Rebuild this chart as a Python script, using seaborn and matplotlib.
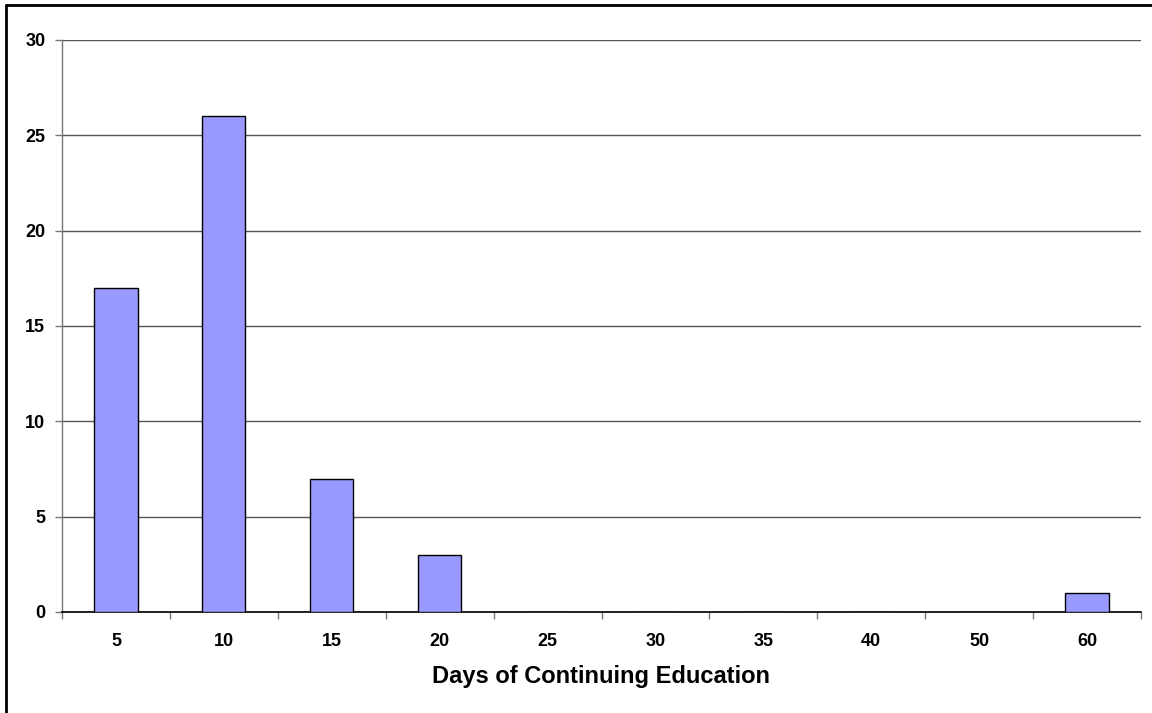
import matplotlib
matplotlib.use("Agg")
import matplotlib.pyplot as plt
import seaborn as sns
import pandas as pd
from matplotlib.lines import Line2D

days = ["5", "10", "15", "20", "25", "30", "35", "40", "50", "60"]
counts = [17, 26, 7, 3, 0, 0, 0, 0, 0, 1]
y_ticks = [0, 5, 10, 15, 20, 25, 30]

sns.set_theme(style="white")
plt.rcParams["font.family"] = ["Liberation Sans", "DejaVu Sans"]
plt.rcParams["text.color"] = "black"
plt.rcParams["xtick.color"] = "black"
plt.rcParams["ytick.color"] = "black"
plt.rcParams["axes.labelcolor"] = "black"

df = pd.DataFrame({"days": days, "count": counts})

W, H = 1152, 713
fig = plt.figure(figsize=(W / 100, H / 100), dpi=100)
ax = fig.add_axes([62 / W, 1 - 612 / H, (1141 - 62) / W, (612 - 40) / H])

sns.barplot(data=df, x="days", y="count", order=days, color="#9999FF",
            edgecolor="black", linewidth=1.0, width=0.4, saturation=1,
            ax=ax, zorder=3)

ax.set_xlim(-0.5, len(days) - 0.5)
ax.set_ylim(0, 30)
ax.set_yticks(y_ticks)
ax.yaxis.grid(True, color="#555555", linewidth=1.0)
ax.set_axisbelow(True)

for s in ("top", "right"):
    ax.spines[s].set_visible(False)
ax.spines["left"].set_color("#777777")
ax.spines["left"].set_linewidth(1.0)
ax.spines["bottom"].set_color("black")
ax.spines["bottom"].set_linewidth(1.2)

# x ticks sit between categories, labels centered under bars
ax.set_xticks([i - 0.5 for i in range(len(days) + 1)], minor=False)
ax.set_xticklabels([])
ax.set_xticks(range(len(days)), minor=True)
ax.set_xticklabels(days, minor=True, fontsize=13, fontweight="bold")
ax.tick_params(axis="x", which="major", direction="out", length=5,
               width=1, color="#777777", bottom=True)
ax.tick_params(axis="x", which="minor", length=0, pad=15, bottom=True)
ax.tick_params(axis="y", direction="out", length=5, width=1,
               color="#777777", left=True, labelsize=13, pad=7)
for lbl in ax.get_yticklabels():
    lbl.set_fontweight("bold")

ax.set_ylabel("")
ax.set_xlabel("Days of Continuing Education", fontsize=17,
              fontweight="bold", labelpad=11)

# outer chart border (left and top edges)
fig.add_artist(Line2D([6 / W, 6 / W], [0, 1 - 5 / H], transform=fig.transFigure,
                      color="black", linewidth=2))
fig.add_artist(Line2D([6 / W, 1], [1 - 5 / H, 1 - 5 / H], transform=fig.transFigure,
                      color="black", linewidth=2))

fig.savefig("out.png", dpi=100)
